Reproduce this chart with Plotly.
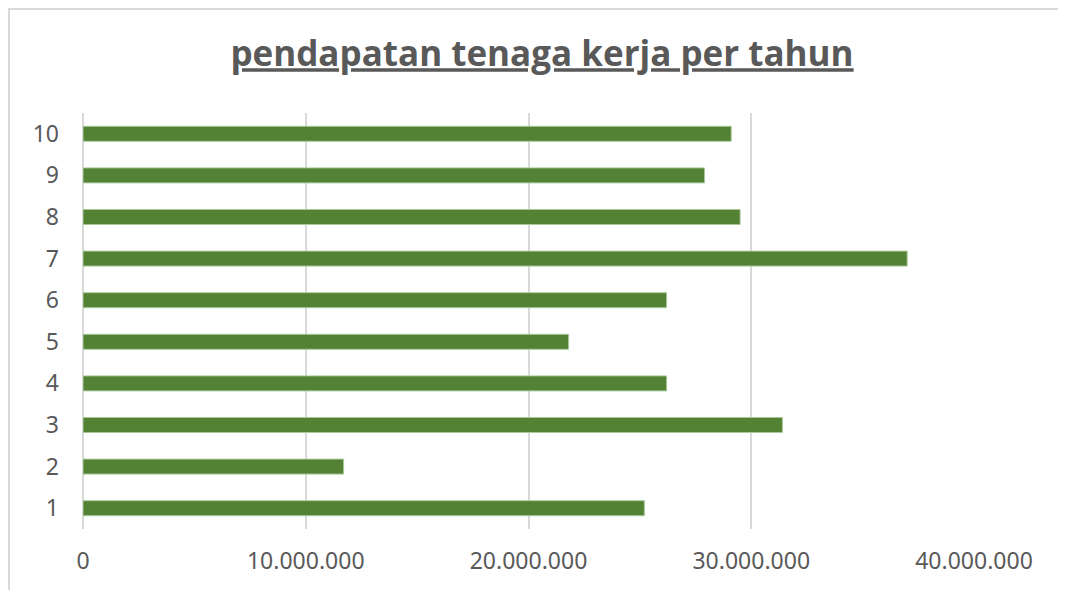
import plotly.graph_objects as go

workers = ["1", "2", "3", "4", "5", "6", "7", "8", "9", "10"]
income = [25200000, 11700000, 31400000, 26200000, 21800000, 26200000, 37000000, 29500000, 27900000, 29100000]
x_ticks = [0, 10000000, 20000000, 30000000, 40000000]
x_tick_text = ["0", "10.000.000", "20.000.000", "30.000.000", "40.000.000"]

grey = "#595959"
W, H = 1066, 590
ml, mr, mt, mb = 75, 100, 105, 69

fig = go.Figure()
fig.add_trace(go.Bar(
    y=workers, x=income, orientation="h",
    marker=dict(color="#548235", line=dict(color="#a9c89a", width=1)),
    width=0.36,
))

fig.update_layout(
    width=W, height=H,
    paper_bgcolor="white", plot_bgcolor="white",
    margin=dict(l=ml, r=mr, t=mt, b=mb, autoexpand=False),
    showlegend=False,
    title=dict(
        text="<b><u>pendapatan tenaga kerja per tahun</u></b>",
        x=534 / W, xanchor="center", y=1 - 46 / H, yanchor="middle",
        font=dict(family="Open Sans", size=35, color=grey),
    ),
    font=dict(family="Noto Sans", color=grey),
)
fig.update_xaxes(
    range=[0, 40000000], tickvals=x_ticks, ticktext=x_tick_text,
    showgrid=True, gridcolor="#d9d9d9", gridwidth=2,
    zeroline=True, zerolinecolor="#d9d9d9", zerolinewidth=2,
    showline=False, ticks="", tickfont=dict(size=23, color=grey, family="Noto Sans"),
    ticklabelstandoff=16,
)
fig.update_yaxes(
    type="category", categoryorder="array", categoryarray=workers,
    range=[-0.5, 9.5], showgrid=False, showline=False, ticks="",
    tickfont=dict(size=23, color=grey, family="Noto Sans"), ticklabelstandoff=23,
)
# light chart-area border (left and top edges visible)
pw, ph = W - ml - mr, H - mt - mb
fig.add_shape(type="rect", xref="paper", yref="paper",
              x0=-(ml - 1) / pw, x1=(W - ml + 5) / pw,
              y0=-(mb + 20) / ph, y1=1 + (mt - 1) / ph,
              line=dict(color="#d9d9d9", width=2))

fig.write_html("out.html")
